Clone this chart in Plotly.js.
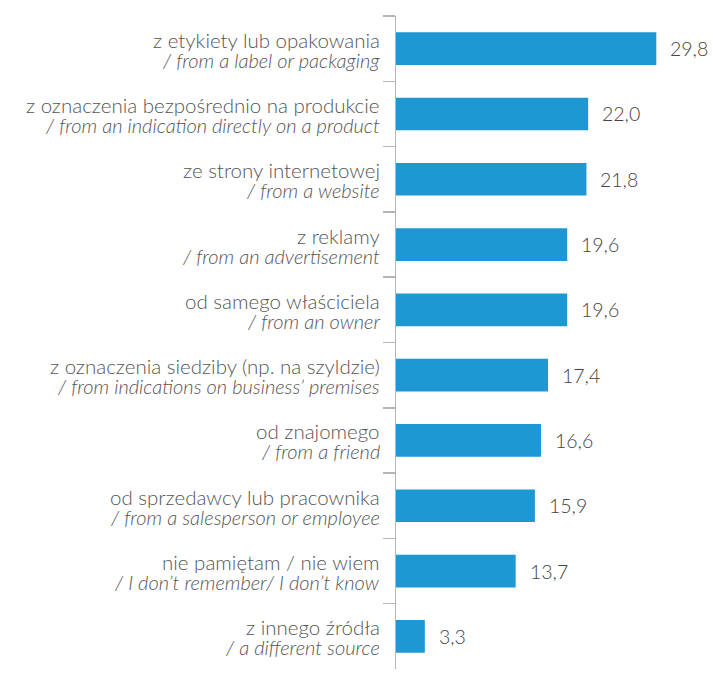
<!DOCTYPE html>
<html><head><meta charset="utf-8">
<script src="https://cdn.plot.ly/plotly-3.0.1.min.js"></script>
<style>html,body{margin:0;padding:0;background:#fff}#chart{width:713px;height:675px}</style>
</head><body><div id="chart"></div>
<script>
const labelsPl = ["z etykiety lub opakowania","z oznaczenia bezpośrednio na produkcie","ze strony internetowej","z reklamy","od samego właściciela","z oznaczenia siedziby (np. na szyldzie)","od znajomego","od sprzedawcy lub pracownika","nie pamiętam / nie wiem","z innego źródła"];
const labelsEn = ["/ from a label or packaging","/ from an indication directly on a product","/ from a website","/ from an advertisement","/ from an owner","/ from indications on business’ premises","/ from a friend","/ from a salesperson or employee","/ I don’t remember/ I don’t know","/ a different source"];
const values = [29.8,22.0,21.8,19.6,19.6,17.4,16.6,15.9,13.7,3.3];

const cats = labelsPl.map((p,i)=>"c"+i);
const fmt = v => v.toFixed(1).replace(".", ",");
const F1 = {family:"Lato, sans-serif", size:20.5, weight:300, color:"#555"};
const F2 = {family:"Lato, sans-serif", size:20, weight:300, color:"#555"};

const trace = {type:"bar", orientation:"h", x:values, y:cats,
  marker:{color:"#1d98d3"}, hoverinfo:"none"};

const annotations = [];
values.forEach((v,i)=>{
  annotations.push({x:v, y:cats[i], text:fmt(v), showarrow:false,
    xanchor:"left", xshift:13, borderpad:0, font:{family:"Lato, sans-serif", size:19.5, weight:300, color:"#444"}});
  annotations.push({x:0, y:cats[i], text:labelsPl[i], showarrow:false, borderpad:0,
    xanchor:"right", xshift:-15, yshift:9, font:F1});
  annotations.push({x:0, y:cats[i], text:"<i>"+labelsEn[i]+"</i>", showarrow:false, borderpad:0,
    xanchor:"right", xshift:-15, yshift:-11, font:F2});
});

const layout = {width:713, height:675, margin:{l:396, r:20, t:16, b:6},
  paper_bgcolor:"#fff", plot_bgcolor:"#fff", showlegend:false, bargap:0.5,
  xaxis:{range:[0,34], visible:false, fixedrange:true},
  yaxis:{autorange:"reversed", type:"category", showline:true, linecolor:"#b5b5b5", linewidth:1.5,
    ticks:"outside", tickson:"boundaries", ticklen:12, tickcolor:"#b5b5b5", tickwidth:1.5,
    showgrid:false, zeroline:false, showticklabels:false},
  annotations:annotations};
Plotly.newPlot("chart",[trace],layout,{displayModeBar:false,staticPlot:true});
</script></body></html>
